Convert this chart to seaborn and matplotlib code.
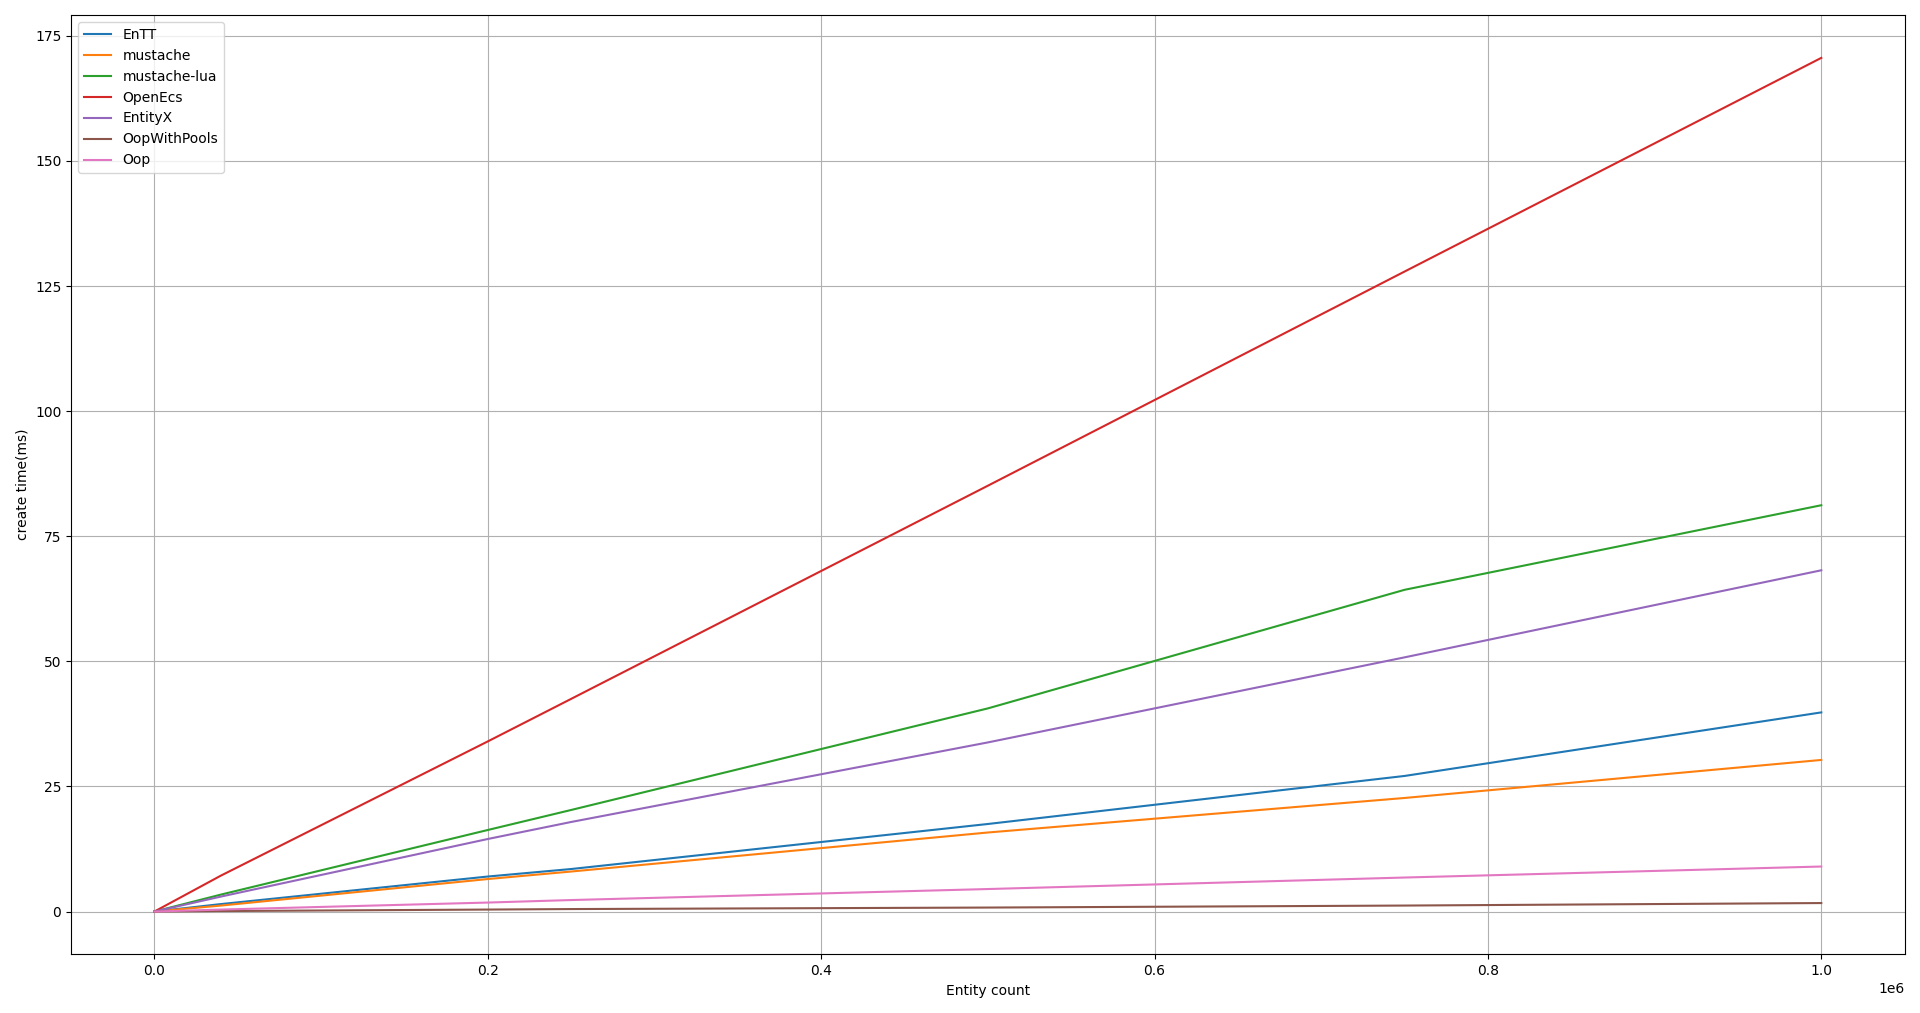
import matplotlib
matplotlib.use("Agg")
import matplotlib.pyplot as plt
import seaborn as sns
import pandas as pd

entity_count = [0, 40000, 200000, 250000, 500000, 750000, 1000000]

series_names = ["EnTT", "mustache", "mustache-lua", "OpenEcs", "EntityX", "OopWithPools", "Oop"]

entt = [0.0, 1.5, 7.0, 8.5, 17.5, 27.1, 39.8]
mustache = [0.0, 1.2, 6.5, 8.0, 15.8, 22.7, 30.3]
mustache_lua = [0.0, 3.4, 16.3, 20.3, 40.6, 64.3, 81.2]
openecs = [0.0, 7.2, 34.0, 42.5, 85.1, 127.9, 170.6]
entityx = [0.0, 3.0, 14.5, 17.9, 33.8, 50.8, 68.2]
oopwithpools = [0.0, 0.1, 0.4, 0.5, 0.8, 1.2, 1.7]
oop = [0.0, 0.4, 1.8, 2.3, 4.5, 6.8, 9.0]

values = [entt, mustache, mustache_lua, openecs, entityx, oopwithpools, oop]

rows = []
for name, vals in zip(series_names, values):
    for x, y in zip(entity_count, vals):
        rows.append({"Entity count": x, "create time(ms)": y, "series": name})
df = pd.DataFrame(rows)

plt.rcParams['font.family'] = ['DejaVu Sans']
fig, ax = plt.subplots(figsize=(19.2, 10.13), dpi=100)
fig.subplots_adjust(left=0.037, right=0.992, top=0.985, bottom=0.058)

sns.lineplot(data=df, x="Entity count", y="create time(ms)", hue="series",
             hue_order=series_names, palette="tab10", ax=ax, linewidth=1.5)

ax.grid(True)
handles, labels = ax.get_legend_handles_labels()
ax.legend(handles, labels, loc="upper left")
ax.set_xlabel("Entity count")
ax.set_ylabel("create time(ms)")

fig.savefig("out.png", dpi=100)
